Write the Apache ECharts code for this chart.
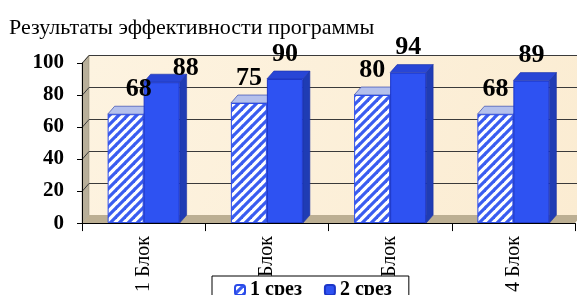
<!DOCTYPE html>
<html>
<head>
<meta charset="utf-8">
<script src="https://cdn.jsdelivr.net/npm/echarts@6/dist/echarts.min.js"></script>
<style>
  html, body { margin: 0; padding: 0; background: #fff; }
  #chart { width: 577px; height: 295px; }
</style>
</head>
<body>
<div id="chart"></div>
<script>
const categories = ['1 Блок', '2 Блок', '3 Блок', '4 Блок'];
const srez1 = [68, 75, 80, 68];
const srez2 = [88, 90, 94, 89];
const seriesNames = ['1 срез', '2 срез'];
const yMax = 100;
const yStep = 20;

const FONT = '"Liberation Serif", "Times New Roman", serif';
const BAR_W = 36;
// 3d depth of walls and bars
const DX = 7;
const DY = -8;

// white bar with blue diagonal stripes
const makeHatch = () => {
  const c = document.createElement('canvas');
  c.width = 9;
  c.height = 9;
  const ctx = c.getContext('2d');
  ctx.fillStyle = '#ffffff';
  ctx.fillRect(0, 0, 9, 9);
  ctx.strokeStyle = '#3a5cf0';
  ctx.lineWidth = 3.2;
  [0, 9, 18].forEach((k) => {
    ctx.beginPath();
    ctx.moveTo(k - 10, 10);
    ctx.lineTo(10, k - 10);
    ctx.stroke();
  });
  return c;
};
const hatch = makeHatch();

const renderWalls = (params, api) => {
  const cs = params.coordSys;
  const x = cs.x, y = cs.y, w = cs.width, h = cs.height;
  const children = [
    {
      type: 'polygon',
      shape: { points: [[x + DX, y + DY], [x + w + DX, y + DY], [x + w + DX, y + h + DY], [x + DX, y + h + DY]] },
      style: {
        fill: new echarts.graphic.LinearGradient(0, 0, 1, 1, [
          { offset: 0, color: '#fdf3e0' },
          { offset: 1, color: '#fbecd2' },
        ]),
      },
    },
    {
      type: 'polygon',
      shape: { points: [[x, y], [x + DX, y + DY], [x + DX, y + h + DY], [x, y + h]] },
      style: { fill: '#b8af99', stroke: '#8c846f', lineWidth: 0.5 },
    },
    {
      type: 'polygon',
      shape: { points: [[x, y + h], [x + DX, y + h + DY], [x + w + DX, y + h + DY], [x + w, y + h]] },
      style: { fill: '#bcaf93' },
    },
  ];
  for (let v = yStep; v <= yMax; v += yStep) {
    const yy = Math.round(api.coord([0, v])[1]) + 0.5;
    children.push({
      type: 'polyline',
      shape: { points: [[x, yy], [x + DX, yy + DY], [x + w + DX, yy + DY]] },
      style: { stroke: '#3a3a3a', lineWidth: 1, fill: null },
    });
  }
  return { type: 'group', children };
};

const renderFaces = (params, api) => {
  const i = api.value(0);
  const [xc, base] = api.coord([i, 0]);
  const children = [];
  [1, 2].forEach((s, k) => {
    const top = api.coord([i, api.value(s)])[1];
    const x0 = xc - BAR_W + k * BAR_W;
    const x1 = x0 + BAR_W;
    children.push({
      type: 'polygon',
      shape: { points: [[x1, top], [x1 + DX, top + DY], [x1 + DX, base + DY], [x1, base]] },
      style: { fill: k === 0 ? '#8da0e8' : '#1f3cb4', stroke: '#1a30a8', lineWidth: 0.6 },
    });
    children.push({
      type: 'polygon',
      shape: { points: [[x0, top], [x0 + DX, top + DY], [x1 + DX, top + DY], [x1, top]] },
      style: { fill: k === 0 ? '#b4c0ec' : '#2846d6', stroke: '#1a30a8', lineWidth: 0.6 },
    });
  });
  return { type: 'group', children };
};

const labelStyle = {
  show: true,
  position: 'top',
  distance: 12,
  fontFamily: FONT,
  fontSize: 26,
  fontWeight: 'bold',
  color: '#000',
};

const chart = echarts.init(document.getElementById('chart'));

const option = {
  animation: false,
  title: {
    text: 'Результаты эффективности программы',
    left: 4,
    top: 12,
    textStyle: { fontFamily: FONT, fontSize: 22, fontWeight: 'normal', color: '#000' },
  },
  legend: {
    data: seriesNames,
    left: 212,
    top: 276,
    padding: [4, 17, 4, 22],
    itemGap: 22,
    itemWidth: 10,
    itemHeight: 10,
    borderColor: '#000',
    borderWidth: 1,
    backgroundColor: '#fff',
    textStyle: { fontFamily: FONT, fontSize: 20, fontWeight: 'bold', color: '#000' },
  },
  grid: { left: 82, right: 2, top: 63, bottom: 71 },
  xAxis: {
    type: 'category',
    data: categories,
    axisLine: { lineStyle: { color: '#000', width: 1 } },
    axisTick: { show: true, length: 8, lineStyle: { color: '#000' } },
    axisLabel: { rotate: 90, margin: 13, fontFamily: FONT, fontSize: 20, color: '#000' },
    z: 3,
  },
  yAxis: {
    type: 'value',
    min: 0,
    max: yMax,
    interval: yStep,
    axisLine: { show: true, lineStyle: { color: '#000', width: 1 } },
    axisTick: { show: true, length: 5, lineStyle: { color: '#000' } },
    splitLine: { show: false },
    axisLabel: { margin: 18, fontFamily: FONT, fontSize: 21, fontWeight: 'bold', color: '#000' },
    z: 3,
  },
  series: [
    {
      type: 'custom',
      z: 0,
      silent: true,
      clip: false,
      renderItem: renderWalls,
      data: [[0, 0]],
    },
    {
      type: 'custom',
      z: 1,
      silent: true,
      clip: false,
      renderItem: renderFaces,
      encode: { x: 0, y: [1, 2] },
      data: categories.map((c, i) => [i, srez1[i], srez2[i]]),
    },
    {
      name: seriesNames[0],
      type: 'bar',
      z: 2,
      barWidth: BAR_W,
      barGap: '0%',
      itemStyle: { color: { image: hatch, repeat: 'repeat' }, borderColor: '#2a4be8', borderWidth: 1 },
      label: labelStyle,
      data: srez1.map((v, i) => (i === 0 ? { value: v, label: { offset: [13, 0] } } : v)),
    },
    {
      name: seriesNames[1],
      type: 'bar',
      z: 2,
      barWidth: BAR_W,
      barGap: '0%',
      itemStyle: { color: '#2e52f2', borderColor: '#1c36c8', borderWidth: 1 },
      label: labelStyle,
      data: srez2.map((v, i) => (i === 0 ? { value: v, label: { offset: [24, 11] } } : v)),
    },
  ],
};

chart.setOption(option);
</script>
</body>
</html>
